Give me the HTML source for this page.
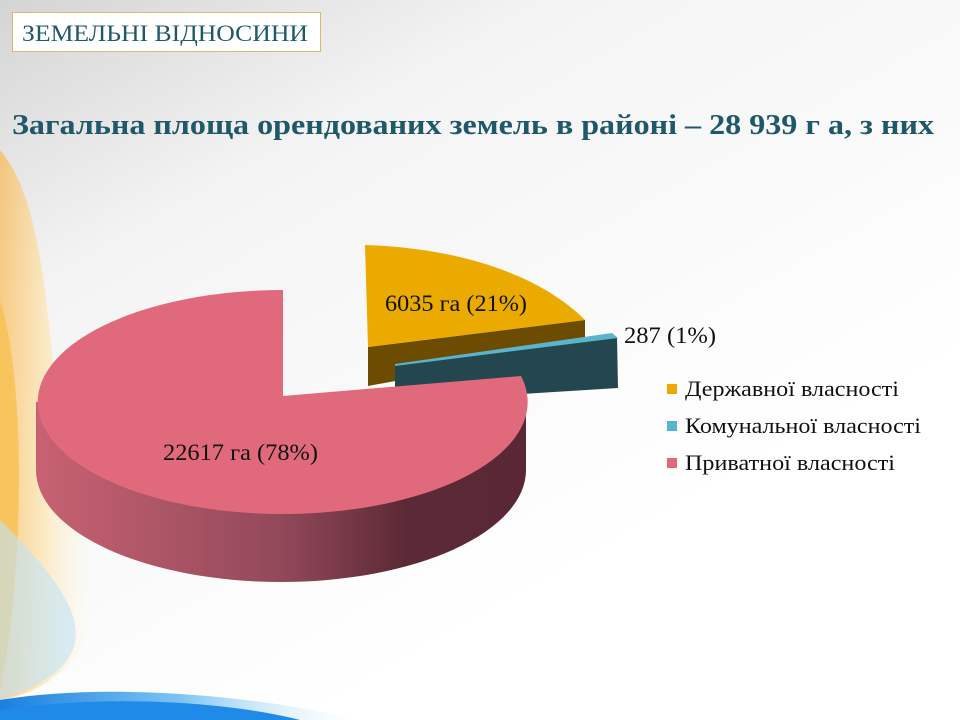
<!DOCTYPE html>
<html><head><meta charset="utf-8"><style>
html,body{margin:0;padding:0;width:960px;height:720px;overflow:hidden}
svg{display:block}
text{font-family:"Liberation Serif",serif}
</style></head><body>
<svg width="960" height="720" viewBox="0 0 960 720" xmlns="http://www.w3.org/2000/svg">
<defs>
<linearGradient id="bg" x1="0" y1="0" x2="0.6" y2="0.8">
<stop offset="0" stop-color="#d4d4d4"/><stop offset="0.35" stop-color="#f4f4f4"/><stop offset="1" stop-color="#ffffff"/>
</linearGradient>
<linearGradient id="or" x1="0" y1="0" x2="1" y2="0">
<stop offset="0" stop-color="#fbb13a"/><stop offset="0.5" stop-color="#fde3a8"/><stop offset="1" stop-color="#fff6e4" stop-opacity="0"/>
</linearGradient>
<linearGradient id="bl" x1="0" y1="0" x2="1" y2="0">
<stop offset="0" stop-color="#1a7fe0"/><stop offset="0.5" stop-color="#7cc4f4"/><stop offset="1" stop-color="#e8f4fc" stop-opacity="0"/>
</linearGradient>
<linearGradient id="pside" x1="0" y1="0" x2="1" y2="0">
<stop offset="0" stop-color="#c86272"/><stop offset="0.5" stop-color="#92495a"/><stop offset="0.75" stop-color="#5c2a36"/><stop offset="1" stop-color="#5a2834"/>
</linearGradient>
</defs>
<rect width="960" height="720" fill="url(#bg)"/>
<path d="M0 150 C60 220 40 400 90 560 C110 640 60 690 0 700 Z" fill="url(#or)" opacity="0.6"/>
<path d="M0 300 C30 400 20 600 0 690 Z" fill="#f8c050" opacity="0.8"/>
<path d="M0 520 C80 600 120 660 0 700 Z" fill="#bfe2f8" opacity="0.6"/>
<path d="M0 700 C120 680 280 700 360 720 L0 720 Z" fill="url(#bl)"/>
<path d="M0 710 C100 695 220 700 300 720 L0 720 Z" fill="#1f8ae8"/>

<rect x="12.5" y="12.5" width="308" height="39" fill="#fff" stroke="#dcb868"/>
<text x="22" y="41" font-size="23" fill="#1f5868" textLength="286" lengthAdjust="spacingAndGlyphs">ЗЕМЕЛЬНІ ВІДНОСИНИ</text>
<text x="12" y="134" font-size="28" font-weight="bold" fill="#1f5868" textLength="922" lengthAdjust="spacingAndGlyphs">Загальна площа орендованих земель в районі – 28 939 г а, з них</text>

<!-- orange slice -->
<path d="M368 347 L585 320 L585 346 L368 386 Z" fill="#6b4c00"/>
<path d="M368 347 L365 245 C460 248 540 275 585 320 Z" fill="#eaaa00"/>
<!-- teal slice -->
<path d="M395 364 L617 337 L618 388 L395 402 Z" fill="#24474f"/>
<path d="M395 364 L612 333 L618 338 L395 366 Z" fill="#5ab4cc"/>
<!-- pink -->
<path d="M36 402 L36 470 A245 112 0 0 0 526 470 L526 402 Z" fill="url(#pside)"/>
<path d="M283 396 L283 290 A245 112 0 1 0 521 376 Z" fill="#e06a7c"/>

<text x="385" y="311" font-size="23" fill="#111" textLength="142" lengthAdjust="spacingAndGlyphs">6035 га (21%)</text>
<text x="624" y="343" font-size="23" fill="#111" textLength="92" lengthAdjust="spacingAndGlyphs">287 (1%)</text>
<text x="163" y="460" font-size="23" fill="#111" textLength="155" lengthAdjust="spacingAndGlyphs">22617 га (78%)</text>

<rect x="667" y="384" width="10" height="10" fill="#eaaa00"/>
<text x="685" y="396" font-size="22" fill="#111" textLength="214" lengthAdjust="spacingAndGlyphs">Державної власності</text>
<rect x="667" y="421" width="10" height="10" fill="#5ab4cc"/>
<text x="685" y="433" font-size="22" fill="#111" textLength="236" lengthAdjust="spacingAndGlyphs">Комунальної власності</text>
<rect x="667" y="458" width="10" height="10" fill="#e06a7c"/>
<text x="685" y="470" font-size="22" fill="#111" textLength="210" lengthAdjust="spacingAndGlyphs">Приватної власності</text>
</svg>
</body></html>
